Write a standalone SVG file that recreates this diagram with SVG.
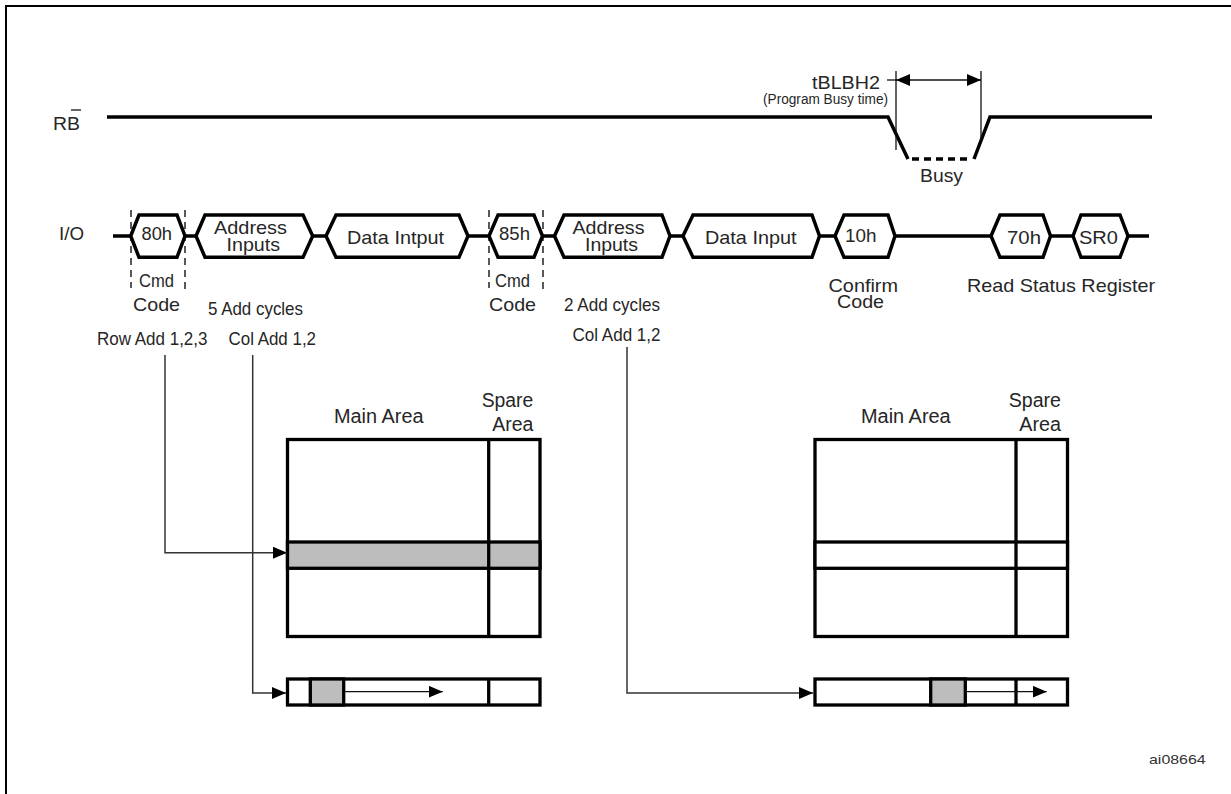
<svg xmlns="http://www.w3.org/2000/svg" width="1231" height="794" viewBox="0 0 1231 794">
<style>
text{font-family:"Liberation Sans",Arial,sans-serif;fill:#262626;font-size:18.5px}
.s{font-size:14px}.m{font-size:19.5px}.a{font-size:13.5px;fill:#333}
.sig{fill:none;stroke:#000;stroke-width:3.5}
.hex{fill:#fff;stroke:#000;stroke-width:3.5;stroke-linejoin:miter}
.dash{fill:none;stroke:#000;stroke-width:1.3;stroke-dasharray:7 5}
.thin{fill:none;stroke:#111;stroke-width:1.3}
.conn{fill:none;stroke:#333;stroke-width:1.5}
.cell{fill:#fff;stroke:#000;stroke-width:3.3}
.grey{fill:#bdbdbd;stroke:#000;stroke-width:3.3}
</style>
<defs>
<marker id="arr" markerUnits="userSpaceOnUse" markerWidth="14" markerHeight="12" refX="14" refY="6" orient="auto"><path d="M0,0L14,6L0,12Z" fill="#000"/></marker>
<marker id="arrS" markerUnits="userSpaceOnUse" markerWidth="14" markerHeight="12" refX="0" refY="6" orient="auto"><path d="M14,0L0,6L14,12Z" fill="#000"/></marker>
</defs>
<rect width="1231" height="794" fill="#fff"/>
<path id="frame" d="M6,794V6H1231" fill="none" stroke="#000" stroke-width="2"/>

<g id="rb-signal">
<text x="53" y="129.5" textLength="27" lengthAdjust="spacingAndGlyphs">RB</text>
<path class="thin" d="M71,110H81"/>
<path class="sig" d="M107,117H888L908,159"/>
<path class="sig" stroke-dasharray="7 5" d="M912,159H972"/>
<path class="sig" d="M974,159L990,117H1152"/>
<text x="920" y="181.7" textLength="43" lengthAdjust="spacingAndGlyphs">Busy</text>
</g>

<g id="tblbh2">
<path class="thin" d="M896,71V150M981,71V141"/>
<path class="thin" d="M887,80H896"/>
<path class="thin" d="M896,80H981" marker-start="url(#arrS)" marker-end="url(#arr)"/>
<text x="812" y="89" textLength="68" lengthAdjust="spacingAndGlyphs">tBLBH2</text>
<text class="s" x="763" y="104" textLength="125" lengthAdjust="spacingAndGlyphs">(Program Busy time)</text>
</g>

<text x="59" y="240" textLength="25" lengthAdjust="spacingAndGlyphs">I/O</text>

<g id="io-80h"><path class="hex" d="M130.7,236L139,215H177L185,236L177,257.3H139Z"/>
<text x="141.5" y="240" textLength="30.5" lengthAdjust="spacingAndGlyphs">80h</text>
<text x="139" y="286.7" textLength="35" lengthAdjust="spacingAndGlyphs">Cmd</text>
<text x="133" y="311" textLength="47" lengthAdjust="spacingAndGlyphs">Code</text></g>

<g id="io-addr1"><path class="hex" d="M196,236L205,215H303L312.7,236L303,257.3H205Z"/>
<text x="214" y="234" textLength="73" lengthAdjust="spacingAndGlyphs">Address</text>
<text x="226.5" y="250.5" textLength="53.5" lengthAdjust="spacingAndGlyphs">Inputs</text>
<text x="208" y="315" textLength="95" lengthAdjust="spacingAndGlyphs">5 Add cycles</text>
<text x="97" y="345" textLength="110.5" lengthAdjust="spacingAndGlyphs">Row Add 1,2,3</text>
<text x="228.5" y="345" textLength="87.5" lengthAdjust="spacingAndGlyphs">Col Add 1,2</text></g>

<g id="io-data1"><path class="hex" d="M326,236L336,215H459L468,236L459,257.3H336Z"/>
<text x="347" y="244" textLength="97" lengthAdjust="spacingAndGlyphs">Data Intput</text></g>

<g id="io-85h"><path class="hex" d="M489,236L498,215H534L542.5,236L534,257.3H498Z"/>
<text x="499" y="240" textLength="31" lengthAdjust="spacingAndGlyphs">85h</text>
<text x="495" y="286.7" textLength="35" lengthAdjust="spacingAndGlyphs">Cmd</text>
<text x="489" y="311" textLength="47" lengthAdjust="spacingAndGlyphs">Code</text></g>

<g id="io-addr2"><path class="hex" d="M554.5,236L564,215H662L670,236L662,257.3H564Z"/>
<text x="572.5" y="233.5" textLength="72" lengthAdjust="spacingAndGlyphs">Address</text>
<text x="585" y="250.5" textLength="53" lengthAdjust="spacingAndGlyphs">Inputs</text>
<text x="564" y="311" textLength="96" lengthAdjust="spacingAndGlyphs">2 Add cycles</text>
<text x="572.5" y="341" textLength="88" lengthAdjust="spacingAndGlyphs">Col Add 1,2</text></g>

<g id="io-data2"><path class="hex" d="M683,236L693,215H812L819.5,236L812,257.3H693Z"/>
<text x="705" y="244" textLength="91.5" lengthAdjust="spacingAndGlyphs">Data Input</text></g>

<g id="io-10h"><path class="hex" d="M835,236L844,215H888L895,236L888,257.3H844Z"/>
<text x="845" y="242" textLength="31.5" lengthAdjust="spacingAndGlyphs">10h</text>
<text x="828.5" y="291.7" textLength="69.5" lengthAdjust="spacingAndGlyphs">Confirm</text>
<text x="837" y="308" textLength="47" lengthAdjust="spacingAndGlyphs">Code</text></g>

<g id="io-70h"><path class="hex" d="M991,236L1000,215H1043L1050.5,236L1043,257.3H1000Z"/>
<text x="1007" y="244" textLength="34" lengthAdjust="spacingAndGlyphs">70h</text></g>

<g id="io-sr0"><path class="hex" d="M1073,236L1081,215H1120L1128,236L1120,257.3H1081Z"/>
<text x="1079" y="244" textLength="39" lengthAdjust="spacingAndGlyphs">SR0</text></g>

<text id="read-status" x="967" y="292" textLength="188" lengthAdjust="spacingAndGlyphs">Read Status Register</text>

<g id="page-left">
<text class="m" x="334" y="423.3" textLength="89.5" lengthAdjust="spacingAndGlyphs">Main Area</text>
<text class="m" x="481.7" y="406.7" textLength="51.6" lengthAdjust="spacingAndGlyphs">Spare</text>
<text class="m" x="492.3" y="431" textLength="41" lengthAdjust="spacingAndGlyphs">Area</text>
<rect class="cell" x="287.5" y="439.5" width="252.5" height="197"/>
<rect class="grey" x="287.5" y="542" width="252.5" height="26.3"/>
<path class="cell" d="M488.7,439.5V636.5"/>
</g>

<g id="register-left">
<rect class="cell" x="287.5" y="679" width="252.5" height="26"/>
<rect class="grey" x="310.3" y="679" width="33.4" height="26"/>
<path class="cell" d="M488.7,679V705"/>
<path class="thin" d="M344,691.7H442.7" marker-end="url(#arr)"/>
</g>

<g id="page-right">
<text class="m" x="861" y="423.3" textLength="89.7" lengthAdjust="spacingAndGlyphs">Main Area</text>
<text class="m" x="1008.7" y="406.7" textLength="52.3" lengthAdjust="spacingAndGlyphs">Spare</text>
<text class="m" x="1019.3" y="431" textLength="41.7" lengthAdjust="spacingAndGlyphs">Area</text>
<rect class="cell" x="815" y="439.5" width="252.5" height="197"/>
<rect class="cell" x="815" y="542" width="252.5" height="26.3"/>
<path class="cell" d="M1016,439.5V636.5"/>
</g>

<g id="register-right">
<rect class="cell" x="815" y="679" width="252.5" height="26"/>
<rect class="grey" x="930.7" y="679" width="34.6" height="26"/>
<path class="cell" d="M1016,679V705"/>
<path class="thin" d="M965.3,691.7H1046.7" marker-end="url(#arr)"/>
</g>

<text class="a" x="1149" y="764" textLength="56.7" lengthAdjust="spacingAndGlyphs">ai08664</text>

<g id="connectors">
<path class="sig" d="M113,236H131M185,236H196M312.7,236H326M468,236H489M542.5,236H554.5M670,236H683M819.5,236H835M895,236H991M1050.5,236H1073M1128,236H1149"/>
<path class="dash" d="M131,210V288M185,210V292M489,210V288M543,210V292"/>
<path class="conn" d="M165,355V552.7H287" marker-end="url(#arr)"/>
<path class="conn" d="M252.7,355V693H286" marker-end="url(#arr)"/>
<path class="conn" d="M627,347V693H813" marker-end="url(#arr)"/>
</g>
</svg>
